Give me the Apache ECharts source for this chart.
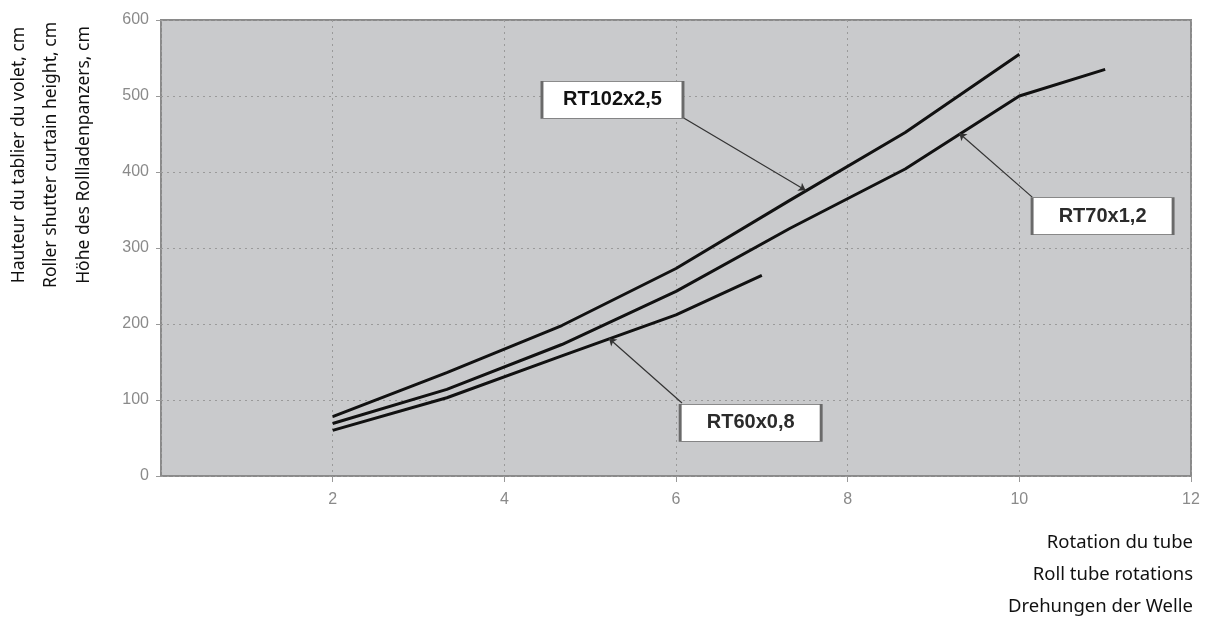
<!DOCTYPE html>
<html>
<head>
<meta charset="utf-8">
<script src="https://cdn.jsdelivr.net/npm/echarts@6.0.0/dist/echarts.min.js"></script>
<style>
  html, body { margin: 0; padding: 0; background: #fff; }
  #chart { width: 1207px; height: 621px; }
</style>
</head>
<body>
<div id="chart"></div>
<script>
// values (x = tube rotations, y = curtain height in cm)
const rotations102 = [2, 3.33, 4.67, 6, 7.33, 8.67, 10];
const heights102 = [78, 136, 198, 273, 363, 452, 555];
const rotations70 = [2, 3.33, 4.67, 6, 7.33, 8.67, 10, 11];
const heights70 = [69, 114, 173, 243, 326, 404, 500, 535];
const rotations60 = [2, 3.33, 4.67, 6, 7];
const heights60 = [60, 103, 158, 212, 264];

const seriesNames = ['RT102x2,5', 'RT70x1,2', 'RT60x0,8'];
const yTitles = ['Hauteur du tablier du volet, cm', 'Roller shutter curtain height, cm', 'Höhe des Rollladenpanzers, cm'];
const xTitles = ['Rotation du tube', 'Roll tube rotations', 'Drehungen der Welle'];

const xMin = 0, xMax = 12, xStep = 2;
const yMin = 0, yMax = 600, yStep = 100;

function pairs (xs, ys) {
    return xs.map(function (x, i) { return [x, ys[i]] })
}

// callout: box centre, leader start (box corner) and leader end (on the curve), in data units
function callout (name, box, from, to, color) {
    return {
        markPoint: {
            silent: true,
            symbol: 'rect',
            symbolSize: [141, 37],
            itemStyle: { color: '#fff', borderColor: '#6a6a6a', borderWidth: 1.5 },
            label: {
                show: true,
                position: 'inside',
                formatter: name,
                color: color,
                fontFamily: 'Liberation Sans, Arial, sans-serif',
                fontSize: 20,
                fontWeight: 'bold'
            },
            data: [{ coord: box }]
        },
        markLine: {
            silent: true,
            symbol: ['none', 'arrow'],
            symbolSize: 7,
            label: { show: false },
            lineStyle: { color: '#333', width: 1.2, type: 'solid' },
            data: [[{ coord: from }, { coord: to }]]
        }
    }
}

const lineStyle = { color: '#111', width: 3 }

const series = [
    Object.assign({
        name: seriesNames[0],
        type: 'line',
        data: pairs(rotations102, heights102),
        showSymbol: false,
        lineStyle: lineStyle,
        z: 3
    }, callout(seriesNames[0], [5.26, 495], [6.09, 471], [7.51, 376], '#111')),
    Object.assign({
        name: seriesNames[1],
        type: 'line',
        data: pairs(rotations70, heights70),
        showSymbol: false,
        lineStyle: lineStyle,
        z: 3
    }, callout(seriesNames[1], [10.97, 342], [10.15, 367], [9.30, 451], '#2b2b2b')),
    Object.assign({
        name: seriesNames[2],
        type: 'line',
        data: pairs(rotations60, heights60),
        showSymbol: false,
        lineStyle: lineStyle,
        z: 3
    }, callout(seriesNames[2], [6.87, 70], [6.07, 96], [5.22, 181], '#2b2b2b'))
]

const tickLabel = {
    color: '#8a8a8a',
    fontFamily: 'Liberation Sans, Arial, sans-serif',
    fontSize: 16
}
const gridLine = { show: true, lineStyle: { color: '#9a9a9a', width: 1, type: [2, 4] } }

const graphics = []
yTitles.forEach(function (t, i) {
    graphics.push({
        type: 'text',
        x: [19, 51, 84][i],
        y: 155,
        rotation: Math.PI / 2,
        style: {
            text: t,
            fill: '#111',
            font: '17.5px "Noto Sans", sans-serif',
            textAlign: 'center',
            textVerticalAlign: 'middle'
        }
    })
})
xTitles.forEach(function (t, i) {
    graphics.push({
        type: 'text',
        x: 1193,
        y: 543 + i * 32,
        style: {
            text: t,
            fill: '#111',
            font: '18.5px "Noto Sans", sans-serif',
            textAlign: 'right',
            textVerticalAlign: 'middle'
        }
    })
})

const chart = echarts.init(document.getElementById('chart'), null, { renderer: 'canvas' })
chart.setOption({
    animation: false,
    backgroundColor: '#fff',
    grid: {
        left: 161,
        right: 16,
        top: 20,
        bottom: 145,
        show: true,
        backgroundColor: '#c9cacc',
        borderColor: '#8a8a8a',
        borderWidth: 2
    },
    xAxis: {
        type: 'value',
        min: xMin,
        max: xMax,
        interval: xStep,
        axisLine: { show: false },
        axisTick: { show: true, length: 6, lineStyle: { color: '#999' } },
        axisLabel: Object.assign({ margin: 16, showMinLabel: false }, tickLabel),
        splitLine: gridLine
    },
    yAxis: {
        type: 'value',
        min: yMin,
        max: yMax,
        interval: yStep,
        axisLine: { show: false },
        axisTick: { show: true, length: 5, lineStyle: { color: '#999' } },
        axisLabel: Object.assign({ margin: 12 }, tickLabel),
        splitLine: gridLine
    },
    graphic: graphics,
    series: series
})
</script>
</body>
</html>
